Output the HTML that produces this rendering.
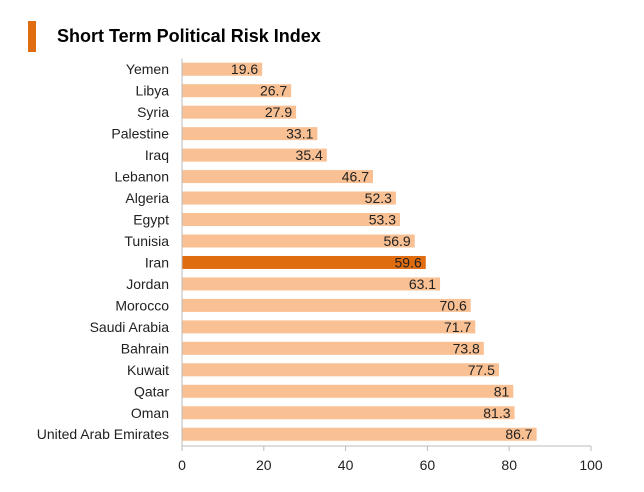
<!DOCTYPE html>
<html><head><meta charset="utf-8"><style>
body{margin:0;background:#fff;font-family:"Liberation Sans",sans-serif}
</style></head><body>
<svg id="chart" width="644" height="487" xmlns="http://www.w3.org/2000/svg">
<rect x="28" y="21" width="8" height="31" fill="#e06c10"/>
<text x="57" y="42" font-size="18" font-weight="bold" fill="#000">Short Term Political Risk Index</text>
<g id="bars"></g>
<g id="axes"></g>
</svg>
<script>
const categories=["Yemen","Libya","Syria","Palestine","Iraq","Lebanon","Algeria","Egypt","Tunisia","Iran","Jordan","Morocco","Saudi Arabia","Bahrain","Kuwait","Qatar","Oman","United Arab Emirates"];
const values=[19.6,26.7,27.9,33.1,35.4,46.7,52.3,53.3,56.9,59.6,63.1,70.6,71.7,73.8,77.5,81,81.3,86.7];
const labels=["19.6","26.7","27.9","33.1","35.4","46.7","52.3","53.3","56.9","59.6","63.1","70.6","71.7","73.8","77.5","81","81.3","86.7"];
const ticks=[0,20,40,60,80,100];
const highlight="Iran";
const NS="http://www.w3.org/2000/svg";
const x0=182,x1=591,y0=58.5,bandH=21.47,barH=13;
const xs=v=>x0+(v-ticks[0])/(ticks[ticks.length-1]-ticks[0])*(x1-x0);
const yc=i=>y0+bandH*(i+0.5);
const bars=document.getElementById('bars'),axes=document.getElementById('axes');
function mk(t,a,p){const e=document.createElementNS(NS,t);for(const k in a)e.setAttribute(k,a[k]);p.appendChild(e);return e;}
categories.forEach((c,i)=>{
 const r=mk('rect',{x:xs(0),y:yc(i)-barH/2,width:xs(values[i])-xs(0),height:barH,fill:c===highlight?'#e06c10':'#f9c093'},bars);
 
 
 const v=mk('text',{x:xs(values[i])-4,y:yc(i)+5,'font-size':14,'text-anchor':'end',fill:'#222'},bars);
 v.textContent=labels[i];
 
 
 const l=mk('text',{x:169,y:yc(i)+5,'font-size':14,'text-anchor':'end',fill:'#222'},axes);
 l.textContent=c;
 
 
});
const ya=mk('line',{x1:x0,x2:x0,y1:y0,y2:446,stroke:'#bbb','stroke-width':1},axes);


const xa=mk('line',{x1:x0,x2:x1,y1:446,y2:446,stroke:'#bbb','stroke-width':1},axes);


ticks.forEach(t=>{
 const tk=mk('line',{x1:xs(t),x2:xs(t),y1:446,y2:451,stroke:'#bbb'},axes);
 
 
 const tl=mk('text',{x:xs(t),y:470,'font-size':14,'text-anchor':'middle',fill:'#222'},axes);
 tl.textContent=t;
 
 
});
</script>
</body></html>
